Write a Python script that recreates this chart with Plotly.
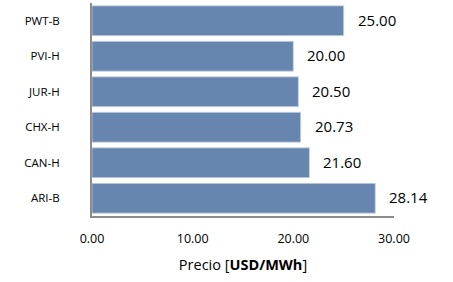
import plotly.graph_objects as go

categories = ["PWT-B", "PVI-H", "JUR-H", "CHX-H", "CAN-H", "ARI-B"]
prices = [25.00, 20.00, 20.50, 20.73, 21.60, 28.14]
x_ticks = [0, 10, 20, 30]
x_tick_labels = ["0.00", "10.00", "20.00", "30.00"]

font_family = "Open Sans, Liberation Sans, sans-serif"

fig = go.Figure()
fig.add_trace(go.Bar(
    y=categories,
    x=prices,
    orientation="h",
    marker=dict(color="#6786AF", line=dict(color="#c9d4e4", width=0.8)),
    hoverinfo="skip",
))

for c, v in zip(categories, prices):
    fig.add_annotation(
        x=v, y=c, xref="x", yref="y",
        text=f"{v:.2f}", showarrow=False,
        xanchor="left", xshift=12, yshift=1,
        font=dict(family=font_family, size=15, color="#000000"),
    )

fig.update_layout(
    width=453, height=282,
    margin=dict(l=92, r=59, t=3, b=66),
    paper_bgcolor="white", plot_bgcolor="white",
    bargap=0.16,
    showlegend=False,
    font=dict(family=font_family, color="#000000"),
)
fig.update_xaxes(
    range=[0, 30], automargin=False,
    tickvals=x_ticks, ticktext=x_tick_labels,
    showgrid=False, zeroline=False,
    showline=True, linecolor="#8c8c8c", linewidth=2,
    ticks="", tickfont=dict(size=12.5, family=font_family),
    ticklabelstandoff=10,
    title=dict(text="Precio [<b>USD/MWh</b>]", font=dict(size=14.5, family=font_family), standoff=14),
)
fig.update_yaxes(
    autorange="reversed", automargin=False,
    showgrid=False, zeroline=False,
    showline=True, linecolor="#8c8c8c", linewidth=2,
    ticks="", tickfont=dict(size=11.5, family=font_family),
    ticklabelstandoff=28,
)

fig.write_html("out.html", post_script="document.body.style.margin='0';",
               config={"displayModeBar": False})
